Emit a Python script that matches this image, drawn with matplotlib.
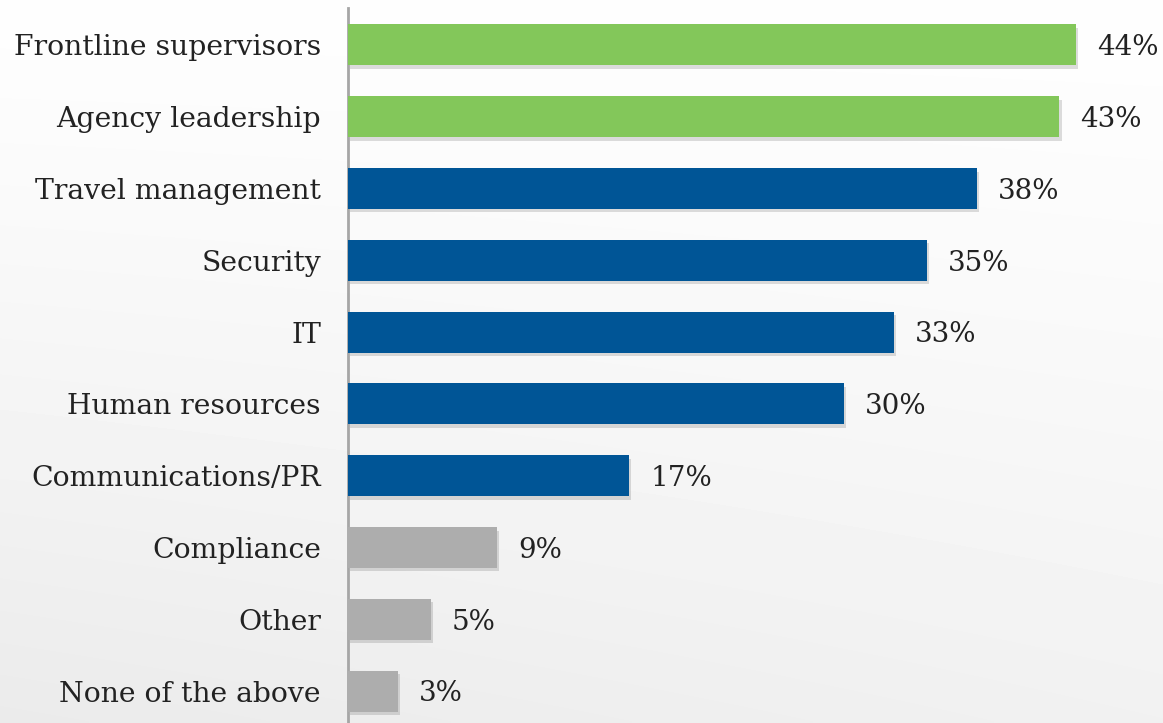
import numpy as np
import matplotlib
matplotlib.use("Agg")
import matplotlib.pyplot as plt
import matplotlib.patheffects as pe

categories = ["Frontline supervisors", "Agency leadership", "Travel management",
              "Security", "IT", "Human resources", "Communications/PR",
              "Compliance", "Other", "None of the above"]
values = [44, 43, 38, 35, 33, 30, 17, 9, 5, 3]
groups = ["top", "top", "mid", "mid", "mid", "mid", "mid", "low", "low", "low"]
group_colors = {"top": "#83C75A", "mid": "#005596", "low": "#ADADAD"}

plt.rcParams["font.family"] = ["DejaVu Serif"]

W, H = 1163, 723
fig = plt.figure(figsize=(W / 100, H / 100), dpi=100)

# soft background wash: white at the top fading to light grey at the bottom
bg = fig.add_axes([0, 0, 1, 1], zorder=-10)
yy = np.linspace(0, 1, 200)[:, None]
xx = np.linspace(0, 1, 300)[None, :]
shade = 0.995 - 0.075 * yy ** 1.2 + 0.025 * xx * yy
bg.imshow(shade, cmap="gray", vmin=0, vmax=1, aspect="auto",
          extent=[0, 1, 0, 1], origin="upper", interpolation="bilinear")
bg.set_axis_off()

left = 348 / W
ax = fig.add_axes([left, 0, 1 - left, (H - 8) / H])
ax.patch.set_alpha(0)

scale = 728 / 44  # pixels per percentage point
xmax = (W - 348) / scale
y = np.arange(len(categories))
colors = [group_colors[g] for g in groups]
bars = ax.barh(y, values, height=0.57, color=colors, zorder=3)
for b in bars:
    b.set_path_effects([pe.SimplePatchShadow(offset=(1.5, -2.5), alpha=0.18,
                                             shadow_rgbFace="#444444"),
                        pe.Normal()])

for yi, v in zip(y, values):
    ax.text(v + 21 / scale, yi + 0.04, f"{v}%", va="center", ha="left",
            fontsize=20, color="#222222")

ax.set_xlim(0, xmax)
ax.set_ylim(len(categories) - 1 + 0.444, -0.514)
ax.set_yticks(y)
ax.set_yticklabels(categories, fontsize=20.3, color="#222222")
ax.tick_params(axis="y", length=0, pad=19.5)
ax.set_xticks([])
for s in ["top", "right", "bottom"]:
    ax.spines[s].set_visible(False)
ax.spines["left"].set_color("#A6A6A6")
ax.spines["left"].set_linewidth(2)

fig.savefig("out.png", dpi=100)
